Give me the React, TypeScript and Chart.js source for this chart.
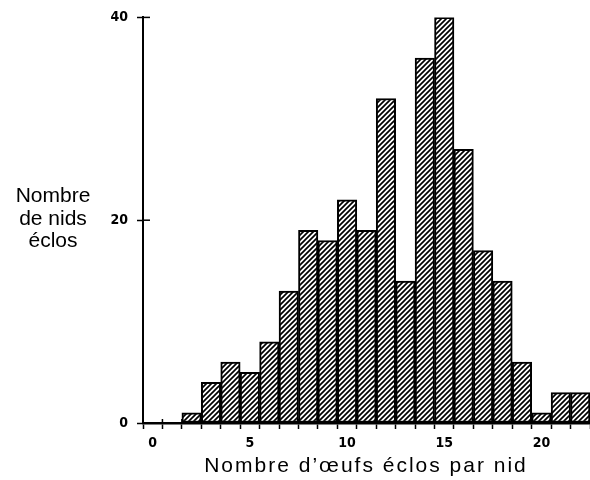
import React, { useEffect, useRef } from "react";
import { Chart, registerables } from "chart.js";

Chart.register(...registerables);

const categories = ["0","1","2","3","4","5","6","7","8","9","10","11","12","13","14","15","16","17","18","19","20","21","22"];
const nestsHatched = [0,0,1,4,6,5,8,13,19,18,22,19,32,14,36,40,27,17,14,6,1,3,3];
const xTickLabels = ["0","5","10","15","20"];
const yTickValues = [0,20,40];
const yTitleLines = ["Nombre","de nids","éclos"];
const xTitle = "Nombre d\u2019\u0153ufs éclos par nid";

function makeHatch(): CanvasPattern | string {
  const n = 5;
  const c = document.createElement("canvas");
  c.width = n;
  c.height = n;
  const g = c.getContext("2d");
  if (!g) return "#888";
  g.fillStyle = "#fff";
  g.fillRect(0, 0, n, n);
  g.strokeStyle = "#000";
  g.lineWidth = 1.7;
  g.beginPath();
  g.moveTo(0, n); g.lineTo(n, 0);
  g.moveTo(-1, 1); g.lineTo(1, -1);
  g.moveTo(n - 1, n + 1); g.lineTo(n + 1, n - 1);
  g.stroke();
  return g.createPattern(c, "repeat") || "#888";
}

const textPlugin = {
  id: "textPlugin",
  beforeDatasetsDraw(chart: any) {
    const { ctx, chartArea, scales } = chart;
    const xs = scales.x;
    ctx.save();
    ctx.strokeStyle = "#000";
    ctx.lineWidth = 1.5;
    for (let i = 0; i <= categories.length; i++) {
      const px = xs.getPixelForValue(i - 0.5);
      ctx.beginPath();
      ctx.moveTo(px, chartArea.bottom - 4);
      ctx.lineTo(px, chartArea.bottom);
      ctx.stroke();
    }
    ctx.restore();
  },
  afterDraw(chart: any) {
    const { ctx, chartArea, scales } = chart;
    const ys = scales.y;
    ctx.save();
    ctx.strokeStyle = "#000";
    ctx.lineWidth = 1.5;
    yTickValues.forEach((v) => {
      const py = ys.getPixelForValue(v);
      ctx.beginPath();
      ctx.moveTo(chartArea.left, py);
      ctx.lineTo(chartArea.left + 7, py);
      ctx.stroke();
    });
    ctx.fillStyle = "#000";
    ctx.font = '21px "Liberation Sans", Arial, sans-serif';
    ctx.textAlign = "center";
    ctx.textBaseline = "alphabetic";
    const baseY = 201.7;
    yTitleLines.forEach((line, i) => {
      ctx.fillText(line, 53, baseY + i * 22.8);
    });
    try { (ctx as any).letterSpacing = "2px"; } catch (e) {}
    ctx.fillText(xTitle, 366, 472);
    try { (ctx as any).letterSpacing = "0px"; } catch (e) {}
    ctx.restore();
  },
};

export default function App() {
  const ref = useRef<HTMLCanvasElement | null>(null);
  useEffect(() => {
    document.body.style.margin = "0";
    const canvas = ref.current;
    if (!canvas) return;
    const hatch = makeHatch();
    const tickFont = { family: '"DejaVu Sans Condensed", "DejaVu Sans", sans-serif', size: 14, weight: "bold" as const };
    const chart = new Chart(canvas, {
      type: "bar",
      data: {
        labels: categories,
        datasets: [
          {
            data: nestsHatched,
            backgroundColor: hatch as any,
            borderColor: "#000",
            borderWidth: 2,
            borderSkipped: false,
            barPercentage: 1,
            categoryPercentage: 1,
          },
        ],
      },
      options: {
        responsive: false,
        animation: false,
        devicePixelRatio: 1,
        layout: { padding: { top: 15, left: 0, right: 0, bottom: 0 } },
        plugins: { legend: { display: false }, tooltip: { enabled: false }, title: { display: false } },
        scales: {
          x: {
            type: "category",
            offset: true,
            grid: { display: true, offset: true, drawOnChartArea: false, drawTicks: true, tickLength: 6, tickWidth: 1.5, tickColor: "#000", color: "#000" },
            border: { display: true, color: "#000", width: 2.5 },
            ticks: {
              autoSkip: false,
              maxRotation: 0,
              minRotation: 0,
              padding: 6,
              color: "#000",
              font: tickFont,
              callback: (_v: any, idx: number) => (xTickLabels.includes(categories[idx]) ? categories[idx] : ""),
            },
            afterFit: (s: any) => { s.height = 57; },
          },
          y: {
            min: 0,
            max: 40,
            grid: { display: true, drawOnChartArea: false, drawTicks: true, tickLength: 6, tickWidth: 1.5, tickColor: "#000", color: "#000" },
            border: { display: true, color: "#000", width: 2 },
            afterBuildTicks: (s: any) => { s.ticks = yTickValues.map((v) => ({ value: v })); },
            ticks: { padding: 9, color: "#000", font: tickFont },
            afterFit: (s: any) => { s.width = 143; },
          },
        },
      },
      plugins: [textPlugin],
    });
    return () => chart.destroy();
  }, []);
  return (
    <div style={{ width: 590, height: 480, background: "#fff" }}>
      <canvas ref={ref} width={590} height={480} style={{ display: "block" }} />
    </div>
  );
}
